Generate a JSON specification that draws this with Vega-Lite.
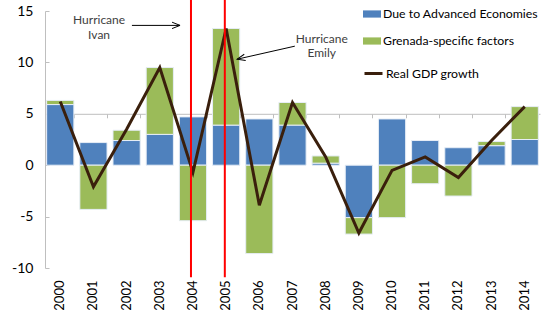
{
  "$schema": "https://vega.github.io/schema/vega-lite/v6.json",
  "width": 495,
  "height": 257,
  "autosize": "none",
  "padding": {"left": 45, "top": 11, "right": 3, "bottom": 42},
  "config": {"view": {"stroke": null}, "font": "Lato", "background": "white"},
  "datasets": {
    "bars": [
      {"year": "2000", "component": "Due to Advanced Economies", "value": 5.9},
      {"year": "2000", "component": "Grenada-specific factors", "value": 0.4},
      {"year": "2001", "component": "Due to Advanced Economies", "value": 2.2},
      {"year": "2001", "component": "Grenada-specific factors", "value": -4.3},
      {"year": "2002", "component": "Due to Advanced Economies", "value": 2.4},
      {"year": "2002", "component": "Grenada-specific factors", "value": 1.0},
      {"year": "2003", "component": "Due to Advanced Economies", "value": 3.0},
      {"year": "2003", "component": "Grenada-specific factors", "value": 6.5},
      {"year": "2004", "component": "Due to Advanced Economies", "value": 4.7},
      {"year": "2004", "component": "Grenada-specific factors", "value": -5.4},
      {"year": "2005", "component": "Due to Advanced Economies", "value": 3.9},
      {"year": "2005", "component": "Grenada-specific factors", "value": 9.4},
      {"year": "2006", "component": "Due to Advanced Economies", "value": 4.5},
      {"year": "2006", "component": "Grenada-specific factors", "value": -8.6},
      {"year": "2007", "component": "Due to Advanced Economies", "value": 3.9},
      {"year": "2007", "component": "Grenada-specific factors", "value": 2.2},
      {"year": "2008", "component": "Due to Advanced Economies", "value": 0.2},
      {"year": "2008", "component": "Grenada-specific factors", "value": 0.7},
      {"year": "2009", "component": "Due to Advanced Economies", "value": -5.1},
      {"year": "2009", "component": "Grenada-specific factors", "value": -1.6},
      {"year": "2010", "component": "Due to Advanced Economies", "value": 4.5},
      {"year": "2010", "component": "Grenada-specific factors", "value": -5.1},
      {"year": "2011", "component": "Due to Advanced Economies", "value": 2.4},
      {"year": "2011", "component": "Grenada-specific factors", "value": -1.8},
      {"year": "2012", "component": "Due to Advanced Economies", "value": 1.7},
      {"year": "2012", "component": "Grenada-specific factors", "value": -3.0},
      {"year": "2013", "component": "Due to Advanced Economies", "value": 1.9},
      {"year": "2013", "component": "Grenada-specific factors", "value": 0.4},
      {"year": "2014", "component": "Due to Advanced Economies", "value": 2.5},
      {"year": "2014", "component": "Grenada-specific factors", "value": 3.2}
    ],
    "gdp": [
      {"year": "2000", "series": "Real GDP growth", "gdp": 6.2},
      {"year": "2001", "series": "Real GDP growth", "gdp": -2.1},
      {"year": "2002", "series": "Real GDP growth", "gdp": 3.5},
      {"year": "2003", "series": "Real GDP growth", "gdp": 9.5},
      {"year": "2004", "series": "Real GDP growth", "gdp": -0.7},
      {"year": "2005", "series": "Real GDP growth", "gdp": 13.3},
      {"year": "2006", "series": "Real GDP growth", "gdp": -3.9},
      {"year": "2007", "series": "Real GDP growth", "gdp": 6.1},
      {"year": "2008", "series": "Real GDP growth", "gdp": 0.8},
      {"year": "2009", "series": "Real GDP growth", "gdp": -6.6},
      {"year": "2010", "series": "Real GDP growth", "gdp": -0.5},
      {"year": "2011", "series": "Real GDP growth", "gdp": 0.8},
      {"year": "2012", "series": "Real GDP growth", "gdp": -1.2},
      {"year": "2013", "series": "Real GDP growth", "gdp": 2.4},
      {"year": "2014", "series": "Real GDP growth", "gdp": 5.7}
    ],
    "events": [
      {"name": "Ivan", "xi": 3.94, "top": 16.1, "bottom": -10.9},
      {"name": "Emily", "xi": 4.96, "top": 16.1, "bottom": -10.9}
    ],
    "notes": [
      {"xi": 1.17, "y": 14.1, "text": "Hurricane"},
      {"xi": 1.17, "y": 12.65, "text": "Ivan"},
      {"xi": 7.88, "y": 12.26, "text": "Hurricane"},
      {"xi": 7.88, "y": 10.9, "text": "Emily"}
    ],
    "arrows": [
      {"name": "Ivan", "xi": 2.16, "y": 13.6, "xi2": 3.61, "y2": 13.6},
      {"name": "Emily", "xi": 7.07, "y": 11.58, "xi2": 5.33, "y2": 10.31}
    ],
    "heads": [
      {"name": "Ivan", "xi": 3.49, "y": 13.6},
      {"name": "Emily", "xi": 5.45, "y": 10.4}
    ]
  },
  "resolve": {"scale": {"x": "independent"}, "axis": {"x": "independent"}},
  "layer": [
    {
      "data": {"name": "bars"},
      "mark": {"type": "bar", "stroke": "#e6edf6", "strokeWidth": 1},
      "encoding": {
        "x": {"field": "year", "type": "nominal", "scale": {"paddingInner": 0.18, "paddingOuter": 0.05},
          "axis": {"title": null, "domain": false, "ticks": false, "labelAngle": -90, "labelFontSize": 13, "labelPadding": 12, "labelColor": "#000000"}},
        "y": {"field": "value", "type": "quantitative", "stack": "zero",
          "scale": {"domain": [-10, 15], "nice": false, "zero": false},
          "axis": {"title": null, "values": [-10, -5, 0, 5, 10, 15], "grid": false, "domainColor": "#bfbfbf", "tickColor": "#bfbfbf", "tickSize": -4, "labelPadding": 16, "labelFontSize": 14, "labelColor": "#000000",
            "labelExpr": "datum.value < 0 ? '-' + abs(datum.value) : '' + datum.value"}},
        "fill": {"field": "component", "type": "nominal",
          "scale": {"domain": ["Due to Advanced Economies", "Grenada-specific factors"], "range": ["#4F81BD", "#9BBB59"]},
          "legend": {"title": null, "orient": "none", "legendX": 318, "legendY": -6, "symbolType": "M-1,-0.4H1V0.4H-1Z", "symbolSize": 324, "symbolStrokeWidth": 0, "labelFontSize": 12.3, "labelColor": "#000000", "rowPadding": 11, "labelOffset": 2, "labelLimit": 300}},
        "order": {"field": "component", "sort": "ascending"}
      }
    },
    {
      "data": {"name": "gdp"},
      "mark": {"type": "line", "strokeWidth": 3},
      "encoding": {
        "x": {"field": "year", "type": "nominal", "scale": {"paddingInner": 0.18, "paddingOuter": 0.05},
          "axis": {"title": null, "labels": false, "domain": true, "ticks": true, "tickBand": "extent", "offset": -102.8, "domainColor": "#bfbfbf", "tickColor": "#bfbfbf", "tickSize": -4}},
        "y": {"field": "gdp", "type": "quantitative", "scale": {"domain": [-10, 15], "nice": false, "zero": false}},
        "stroke": {"field": "series", "type": "nominal", "scale": {"domain": ["Real GDP growth"], "range": ["#3a1f0c"]},
          "legend": {"title": null, "orient": "none", "legendX": 318, "legendY": 52, "symbolType": "stroke", "symbolSize": 324, "symbolStrokeWidth": 3, "labelFontSize": 12.3, "labelColor": "#000000", "labelOffset": 2, "labelLimit": 300}}
      }
    },
    {
      "data": {"name": "events"},
      "mark": {"type": "rule", "color": "#ff0000", "strokeWidth": 2},
      "encoding": {
        "x": {"field": "xi", "type": "quantitative", "scale": {"domain": [-0.46, 14.46], "nice": false, "zero": false}, "axis": null},
        "y": {"field": "top", "type": "quantitative", "scale": {"domain": [-10, 15], "nice": false, "zero": false}},
        "y2": {"field": "bottom"}
      }
    },
    {
      "data": {"name": "notes"},
      "mark": {"type": "text", "fontSize": 12, "color": "#404040", "align": "center", "baseline": "middle"},
      "encoding": {
        "x": {"field": "xi", "type": "quantitative", "scale": {"domain": [-0.46, 14.46], "nice": false, "zero": false}, "axis": null},
        "y": {"field": "y", "type": "quantitative", "scale": {"domain": [-10, 15], "nice": false, "zero": false}},
        "text": {"field": "text"}
      }
    },
    {
      "data": {"name": "arrows"},
      "mark": {"type": "rule", "color": "#000000", "strokeWidth": 1},
      "encoding": {
        "x": {"field": "xi", "type": "quantitative", "scale": {"domain": [-0.46, 14.46], "nice": false, "zero": false}, "axis": null},
        "x2": {"field": "xi2"},
        "y": {"field": "y", "type": "quantitative", "scale": {"domain": [-10, 15], "nice": false, "zero": false}},
        "y2": {"field": "y2"}
      }
    },
    {
      "data": {"name": "heads"},
      "transform": [{"filter": "datum.name === 'Ivan'"}],
      "mark": {"type": "point", "shape": "M-1,-0.8L1,0L-1,0.8", "filled": false, "stroke": "#000000", "strokeWidth": 1, "size": 64, "opacity": 1},
      "encoding": {
        "x": {"field": "xi", "type": "quantitative", "scale": {"domain": [-0.46, 14.46], "nice": false, "zero": false}, "axis": null},
        "y": {"field": "y", "type": "quantitative", "scale": {"domain": [-10, 15], "nice": false, "zero": false}}
      }
    },
    {
      "data": {"name": "heads"},
      "transform": [{"filter": "datum.name === 'Emily'"}],
      "mark": {"type": "point", "shape": "M-1,-0.8L1,0L-1,0.8", "filled": false, "stroke": "#000000", "strokeWidth": 1, "size": 64, "angle": 167, "opacity": 1},
      "encoding": {
        "x": {"field": "xi", "type": "quantitative", "scale": {"domain": [-0.46, 14.46], "nice": false, "zero": false}, "axis": null},
        "y": {"field": "y", "type": "quantitative", "scale": {"domain": [-10, 15], "nice": false, "zero": false}}
      }
    }
  ]
}
